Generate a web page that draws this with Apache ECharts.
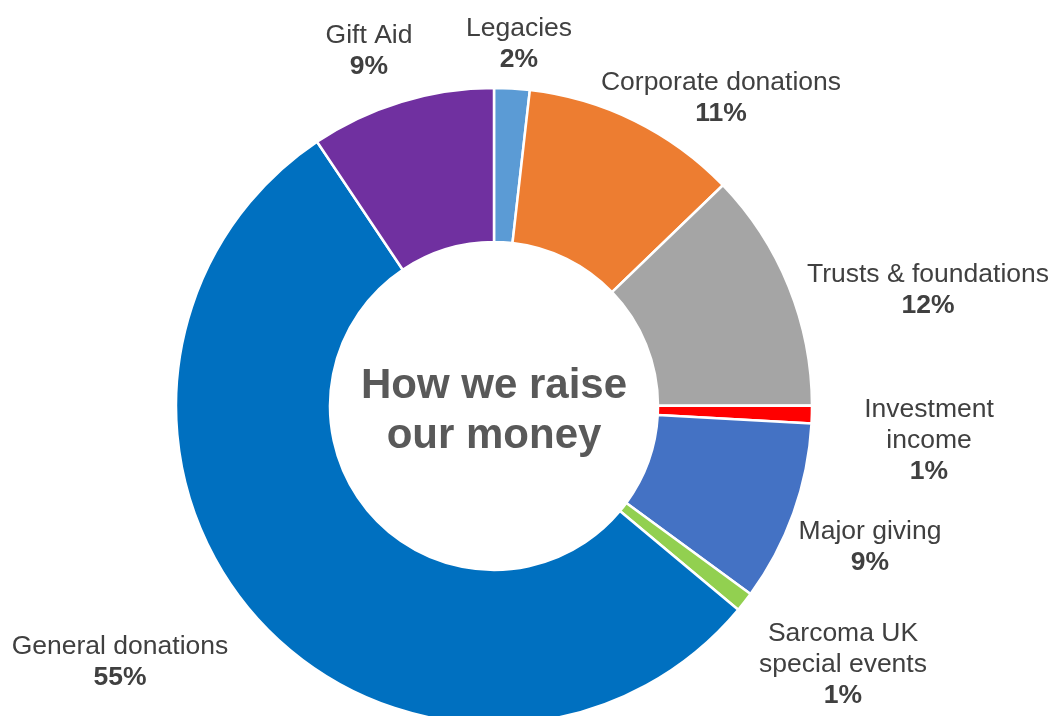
<!DOCTYPE html>
<html>
<head>
<meta charset="utf-8">
<script src="https://cdn.jsdelivr.net/npm/echarts@6/dist/echarts.min.js"></script>
<style>html,body{margin:0;padding:0;background:#fff}#c{width:1054px;height:716px}</style>
</head>
<body>
<div id="c"></div>
<script>
const categories = ['Legacies', 'Corporate donations', 'Trusts & foundations', 'Investment\nincome', 'Major giving', 'Sarcoma UK\nspecial events', 'General donations', 'Gift Aid'];
const values = [1.8, 11.0, 12.2, 0.9, 9.2, 1.0, 54.6, 9.4];
const colors = ['#5B9BD5', '#ED7D31', '#A5A5A5', '#FF0000', '#4472C4', '#92D050', '#0070C0', '#7030A0'];
const centerTitle = 'How we raise\nour money';
// label block centres (layout only)
const labelAnchors = [[519, 44], [721, 98], [928, 290], [929, 441], [870, 547], [843, 665], [120, 662], [369, 51]];

const chart = echarts.init(document.getElementById('c'), null, {renderer: 'canvas'});
chart.setOption({
  backgroundColor: '#fff',
  animation: false,
  title: {
    text: centerTitle,
    left: 494, top: 411,
    padding: 0,
    textAlign: 'center', textVerticalAlign: 'middle',
    textStyle: {fontFamily: 'Liberation Sans, Arial, sans-serif', fontSize: 42, fontWeight: 'bold', color: '#595959', lineHeight: 50}
  },
  series: [{
    type: 'pie',
    center: [494, 406],
    radius: [164, 318],
    startAngle: 90,
    clockwise: true,
    avoidLabelOverlap: false,
    itemStyle: {borderColor: '#fff', borderWidth: 2.5},
    label: {
      show: true,
      position: 'outside',
      formatter: p => p.name.split('\n').map(s => '{n|' + s + '}').join('\n') + '\n{p|' + Math.round(p.percent) + '%}',
      rich: {
        n: {fontFamily: 'Liberation Sans, Arial, sans-serif', fontSize: 26.5, color: '#404040', lineHeight: 31, align: 'center'},
        p: {fontFamily: 'Liberation Sans, Arial, sans-serif', fontSize: 26.5, fontWeight: 'bold', color: '#404040', lineHeight: 31, align: 'center'}
      }
    },
    labelLine: {show: false},
    labelLayout: p => ({x: labelAnchors[p.dataIndex][0], y: labelAnchors[p.dataIndex][1], align: 'center', verticalAlign: 'middle'}),
    emphasis: {disabled: true},
    data: categories.map((c, i) => ({name: c, value: values[i], itemStyle: {color: colors[i]}}))
  }]
});
</script>
</body>
</html>
